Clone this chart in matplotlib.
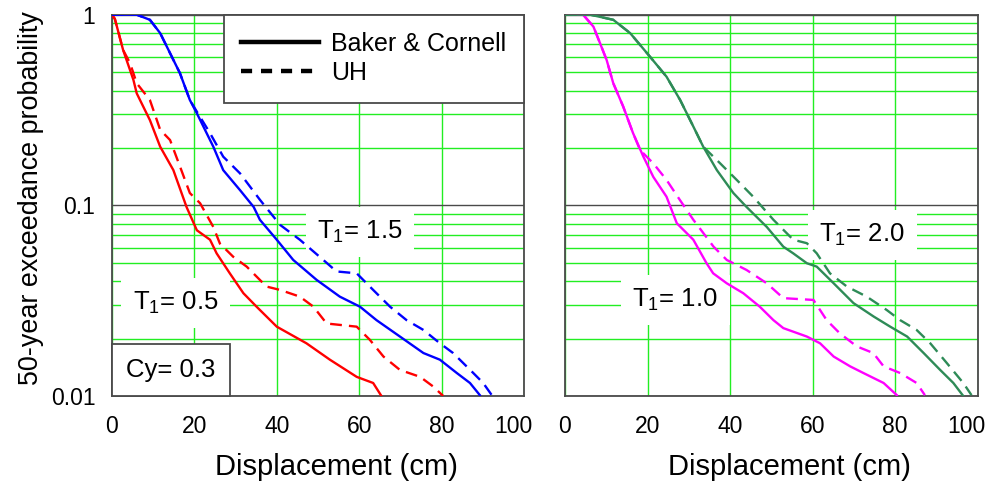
import matplotlib
matplotlib.use('Agg')
import matplotlib.pyplot as plt
import matplotlib.transforms as mtransforms
from matplotlib.lines import Line2D
from matplotlib.offsetbox import AnchoredText
from matplotlib.ticker import FixedLocator, LogLocator, NullFormatter

plt.rcParams['font.family'] = ['Liberation Sans', 'DejaVu Sans']
plt.rcParams['mathtext.fontset'] = 'custom'
plt.rcParams['mathtext.rm'] = 'Liberation Sans'
plt.rcParams['mathtext.it'] = 'Liberation Sans:italic'

# T1 = 0.5, Baker & Cornell
x_05_bc = [0, 0.7, 2.7, 5.2, 6.0, 9.2, 11.7, 14.9, 18.1, 20.6, 23.8, 25.4, 28.6, 31.9,
           35.1, 40.0, 47.2, 52.9, 59.4, 63.4, 65.4]
y_05_bc = [1.0, 0.95, 0.653, 0.455, 0.387, 0.28, 0.203, 0.153, 0.098, 0.074, 0.066, 0.056,
           0.044, 0.0346, 0.0294, 0.0231, 0.0189, 0.0155, 0.0126, 0.0117, 0.010]
# T1 = 0.5, UH
x_05_uh = [0, 0.7, 2.7, 4.4, 6.0, 9.2, 11.7, 14.1, 16.5, 18.9, 21.4, 24.6, 26.2, 29.4,
           32.7, 37.5, 40.8, 45.6, 48.9, 52.1, 59.4, 62.6, 65.9, 69.9, 74.8, 78.0, 80.4]
y_05_uh = [1.0, 0.95, 0.653, 0.556, 0.437, 0.357, 0.249, 0.22, 0.16, 0.116, 0.1025, 0.077,
           0.063, 0.0538, 0.0477, 0.0375, 0.036, 0.0332, 0.0294, 0.024, 0.0231, 0.0197,
           0.0161, 0.0137, 0.0126, 0.0112, 0.010]
# T1 = 1.5, Baker & Cornell
x_15_bc = [0, 6.0, 9.2, 11.7, 14.1, 16.5, 18.9, 20.6, 24.6, 27.0, 31.1, 34.4, 35.9, 40.0,
           44.0, 49.7, 55.3, 60.2, 64.2, 69.9, 75.6, 79.6, 83.7, 86.9, 89.3]
y_15_bc = [1.0, 1.0, 0.94, 0.80, 0.628, 0.493, 0.357, 0.304, 0.203, 0.153, 0.12, 0.098,
           0.084, 0.066, 0.0517, 0.0406, 0.0332, 0.0294, 0.025, 0.0205, 0.0168, 0.0155,
           0.0132, 0.0117, 0.0101]
# T1 = 1.5, UH
x_15_uh = [0, 6.0, 9.2, 11.7, 14.1, 16.5, 18.9, 20.6, 23.8, 27.0, 31.1, 35.9, 40.8, 45.6,
           51.3, 54.5, 59.4, 63.4, 67.5, 71.5, 75.6, 79.6, 82.8, 87.7, 90.1, 92.2]
y_15_uh = [1.0, 1.0, 0.94, 0.80, 0.628, 0.493, 0.357, 0.31, 0.239, 0.18, 0.147, 0.107,
           0.079, 0.066, 0.0517, 0.045, 0.044, 0.036, 0.0294, 0.025, 0.0222, 0.0189,
           0.0168, 0.0132, 0.0117, 0.0101]

# T1 = 1.0, Baker & Cornell
x_10_bc = [0, 4.4, 6.9, 8.5, 10.1, 11.7, 14.1, 16.5, 19.0, 21.4, 24.6, 27.1, 31.1, 34.3,
           35.9, 39.2, 43.2, 47.2, 50.5, 52.9, 58.6, 61.8, 65.1, 69.1, 72.3, 77.2, 80.4]
y_10_bc = [1.0, 1.0, 0.865, 0.708, 0.578, 0.437, 0.33, 0.239, 0.18, 0.141, 0.111, 0.0805,
           0.066, 0.0497, 0.044, 0.039, 0.0346, 0.0294, 0.025, 0.0227, 0.0205, 0.0189,
           0.0161, 0.0143, 0.0132, 0.0117, 0.0101]
# T1 = 1.0, UH
x_10_uh = [0, 4.4, 6.9, 8.5, 10.1, 11.7, 14.1, 16.5, 18.2, 21.4, 24.6, 27.8, 31.1, 36.0,
           39.2, 44.0, 48.9, 52.9, 60.2, 63.4, 66.6, 70.7, 74.7, 77.2, 81.2, 85.2, 87.2]
y_10_uh = [1.0, 1.0, 0.865, 0.708, 0.578, 0.437, 0.33, 0.239, 0.195, 0.166, 0.136, 0.107,
           0.084, 0.0607, 0.0517, 0.0458, 0.039, 0.0326, 0.0319, 0.025, 0.0213, 0.0182,
           0.0168, 0.0143, 0.0132, 0.0117, 0.0101]
# T1 = 2.0, Baker & Cornell
x_20_bc = [0, 6.1, 11.7, 15.8, 20.6, 24.6, 27.9, 31.1, 33.5, 36.8, 40.8, 44.0, 48.9, 52.9,
           55.3, 58.6, 61.0, 65.1, 69.9, 74.8, 78.8, 82.9, 86.9, 90.9, 94.1, 96.5]
y_20_bc = [1.0, 1.0, 0.94, 0.80, 0.602, 0.473, 0.357, 0.259, 0.203, 0.153, 0.116, 0.098,
           0.077, 0.0607, 0.056, 0.0497, 0.0477, 0.039, 0.0307, 0.0261, 0.0231, 0.0205,
           0.0168, 0.0137, 0.0117, 0.010]
# T1 = 2.0, UH
x_20_uh = [0, 6.1, 11.7, 15.8, 20.6, 24.6, 27.9, 31.1, 33.5, 37.6, 41.6, 45.6, 50.5, 55.3,
           58.6, 61.0, 64.2, 68.3, 73.1, 77.9, 81.2, 85.2, 88.5, 92.5, 96.5, 98.5]
y_20_uh = [1.0, 1.0, 0.94, 0.80, 0.602, 0.473, 0.357, 0.259, 0.203, 0.166, 0.136, 0.111,
           0.084, 0.066, 0.0633, 0.056, 0.044, 0.0375, 0.0332, 0.0283, 0.025, 0.0222,
           0.0189, 0.0149, 0.0117, 0.0101]

x_ticks = [0, 20, 40, 60, 80, 100]
y_ticks = [0.01, 0.1, 1]
y_tick_labels = ['0.01', '0.1', '1']

red = '#ff0000'
blue = '#0000ff'
magenta = '#ff00ff'
green = '#2e8b57'
grid_green = '#22ee22'
frame = '#4a4a4a'
dash = (5, 3)

fig = plt.figure(figsize=(9.91, 4.86), dpi=100)
ax1 = fig.add_axes([0.1130, 0.1852, 0.4157, 0.7846])
ax2 = fig.add_axes([0.5701, 0.1852, 0.4165, 0.7846])

for ax in (ax1, ax2):
    ax.set_yscale('log')
    ax.set_xlim(0, 100)
    ax.set_ylim(0.01, 1)
    ax.set_axisbelow(True)
    ax.xaxis.set_major_locator(FixedLocator(x_ticks))
    ax.yaxis.set_major_locator(FixedLocator(y_ticks))
    ax.yaxis.set_minor_locator(LogLocator(base=10, subs=range(2, 10)))
    ax.yaxis.set_minor_formatter(NullFormatter())
    ax.grid(True, axis='x', which='major', color=grid_green, lw=1.0)
    ax.grid(True, axis='y', which='minor', color=grid_green, lw=1.0)
    ax.grid(True, axis='y', which='major', color=frame, lw=1.0)
    ax.tick_params(which='both', length=0, labelsize=16.5)
    ax.tick_params(axis='x', pad=14)
    ax.tick_params(axis='y', pad=12)
    for spine in ax.spines.values():
        spine.set_color(frame)
        spine.set_linewidth(1.3)

ax1.set_yticklabels(y_tick_labels)
ax2.set_yticklabels([])

# pull the "100" labels back inside, as in the original
shift = mtransforms.ScaledTranslation(-11 / 100, 0, fig.dpi_scale_trans)
for ax in (ax1, ax2):
    lab = ax.get_xticklabels()[-1]
    lab.set_transform(lab.get_transform() + shift)

ax1.plot(x_05_bc, y_05_bc, color=red, lw=1.7, zorder=3)
ax1.plot(x_05_uh, y_05_uh, color=red, lw=1.7, dashes=dash, zorder=3)
ax1.plot(x_15_bc, y_15_bc, color=blue, lw=1.7, zorder=3)
ax1.plot(x_15_uh, y_15_uh, color=blue, lw=1.7, dashes=dash, zorder=3)

ax2.plot(x_10_bc, y_10_bc, color=magenta, lw=1.7, zorder=3)
ax2.plot(x_10_uh, y_10_uh, color=magenta, lw=1.7, dashes=dash, zorder=3)
ax2.plot(x_20_bc, y_20_bc, color=green, lw=1.7, zorder=3)
ax2.plot(x_20_uh, y_20_uh, color=green, lw=1.7, dashes=dash, zorder=3)

label_box = dict(boxstyle='square,pad=0.45', facecolor='white', edgecolor='none')
ax1.text(60.2, 0.0725, 'T$_{1}$= 1.5', fontsize=18.5, ha='center', va='center',
         bbox=label_box, zorder=1.5)
ax1.text(15.5, 0.0308, 'T$_{1}$= 0.5', fontsize=18.5, ha='center', va='center',
         bbox=label_box, zorder=1.5)
ax2.text(72.0, 0.070, 'T$_{1}$= 2.0', fontsize=18.5, ha='center', va='center',
         bbox=label_box, zorder=1.5)
ax2.text(26.7, 0.0319, 'T$_{1}$= 1.0', fontsize=18.5, ha='center', va='center',
         bbox=label_box, zorder=1.5)

cy = AnchoredText('Cy= 0.3', loc='lower left', pad=0.55, borderpad=0,
                  prop=dict(size=18.5), frameon=True)
cy.patch.set_boxstyle('square,pad=0')
cy.patch.set_edgecolor(frame)
cy.patch.set_linewidth(1.3)
ax1.add_artist(cy)

handles = [Line2D([], [], color='black', lw=3.2),
           Line2D([], [], color='black', lw=3.2, dashes=(2.5, 2))]
leg = ax1.legend(handles, ['Baker & Cornell', 'UH'], loc='upper right',
                 bbox_to_anchor=(1, 1), borderaxespad=0, fontsize=18,
                 fancybox=False, framealpha=1, edgecolor=frame, borderpad=0.7,
                 handlelength=3.1, handletextpad=0.5, labelspacing=0.2)
leg.get_frame().set_linewidth(1.3)

ax1.set_ylabel('50-year exceedance probability', fontsize=19.4)
ax1.yaxis.set_label_coords(-0.165, 0.52)
ax1.set_xlabel('Displacement (cm)', fontsize=21)
ax1.xaxis.set_label_coords(0.546, -0.15)
ax2.set_xlabel('Displacement (cm)', fontsize=21)
ax2.xaxis.set_label_coords(0.543, -0.15)

plt.savefig('out.png', dpi=100)
